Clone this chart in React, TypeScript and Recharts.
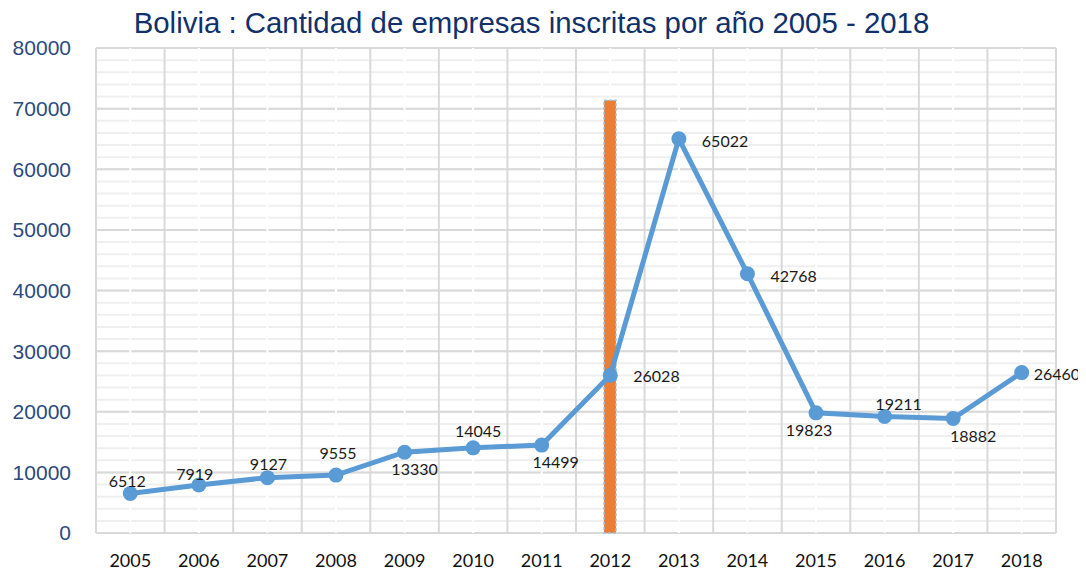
import React from 'react';
import {
  ComposedChart,
  Line,
  Bar,
  XAxis,
  YAxis,
  CartesianGrid,
  LabelList
} from 'recharts';

// años y cantidad de empresas inscritas
const YEARS = ['2005', '2006', '2007', '2008', '2009', '2010', '2011', '2012', '2013', '2014', '2015', '2016', '2017', '2018'];
const EMPRESAS = [6512, 7919, 9127, 9555, 13330, 14045, 14499, 26028, 65022, 42768, 19823, 19211, 18882, 26460];
// barra naranja que marca el año 2012
const MARCA_YEAR = '2012';
const MARCA_VALUE = 71400;

const Y_MAX = 80000;
const Y_TICKS = [0, 10000, 20000, 30000, 40000, 50000, 60000, 70000, 80000];
const Y_MINOR_STEP = 2000;

// label placement per point: [anchor, dx, dy]
const LABEL_PLACE: [string, number, number][] = [
  ['middle', -3, -7],
  ['middle', -4, -5],
  ['middle', 1, -8],
  ['middle', 2, -16],
  ['middle', 10, 23],
  ['middle', 5, -11],
  ['middle', 14, 23],
  ['start', 23, 7],
  ['start', 23, 8],
  ['start', 23, 8],
  ['middle', -7, 23],
  ['middle', 14, -7],
  ['middle', 20, 23],
  ['start', 12, 7]
];

const chartData = YEARS.map((year, i) => ({
  year,
  empresas: EMPRESAS[i],
  marca: year === MARCA_YEAR ? MARCA_VALUE : null
}));

// grid helpers: Excel-like band boundaries, band centers and minor lines
const bandLines = ({ offset }: any, center: boolean) => {
  const n = YEARS.length;
  const step = offset.width / n;
  const out: number[] = [];
  for (let i = 0; i <= n; i++) {
    if (center && i === n) break;
    out.push(offset.left + step * (i + (center ? 0.5 : 0)));
  }
  return out;
};

const minorLines = ({ offset }: any) => {
  const out: number[] = [];
  for (let v = 0; v <= Y_MAX; v += Y_MINOR_STEP) {
    out.push(offset.top + offset.height * (1 - v / Y_MAX));
  }
  return out;
};

const renderLabel = (props: any) => {
  const { x, y, value } = props;
  const idx = props.index ?? EMPRESAS.indexOf(value);
  const [anchor, dx, dy] = LABEL_PLACE[idx] || ['middle', 0, -8];
  return (
    <text
      x={x + dx}
      y={y + dy}
      textAnchor={anchor as any}
      fill="#1a1a1a"
      style={{ fontFamily: 'Lato, sans-serif', fontSize: 16 }}
    >
      {value}
    </text>
  );
};

const renderXTick = (props: any) => {
  const { x, y, payload } = props;
  return (
    <text
      x={x}
      y={y + 34}
      textAnchor="middle"
      fill="#111"
      style={{ fontFamily: 'Lato, sans-serif', fontSize: 18 }}
    >
      {payload.value}
    </text>
  );
};

export default function App() {
  return (
    <div style={{ position: 'relative', width: 1078, height: 563 }}>
      <div
        style={{
          position: 'absolute',
          top: 0,
          left: 0,
          width: 1047,
          textAlign: 'center',
          fontFamily: '"Liberation Sans", Arial, sans-serif',
          fontSize: 29.4,
          lineHeight: '29px',
          color: '#12306b'
        }}
      >
        Bolivia : Cantidad de empresas inscritas por año 2005 - 2018
      </div>
      <ComposedChart
        width={1078}
        height={563}
        data={chartData}
        margin={{ top: 40, right: 30, bottom: 0, left: 0 }}
      >
        <XAxis
          dataKey="year"
          height={38}
          axisLine={false}
          tickLine={false}
          tickSize={0}
          tickMargin={0}
          interval={0}
          tick={renderXTick}
        />
        <YAxis
          width={88}
          domain={[0, Y_MAX]}
          ticks={Y_TICKS}
          interval={0}
          axisLine={false}
          tickLine={false}
          tickSize={0}
          tickMargin={25}
          tick={{ fill: '#2b4a7e', fontSize: 21, fontFamily: '"Liberation Sans", Arial, sans-serif' }}
        />
        <CartesianGrid
          vertical={false}
          horizontalCoordinatesGenerator={minorLines}
          stroke="#efefef"
          strokeWidth={2}
        />
        <CartesianGrid vertical={false} stroke="#d9d9d9" strokeWidth={2} />
        <CartesianGrid
          horizontal={false}
          verticalCoordinatesGenerator={(p: any) => bandLines(p, true)}
          stroke="#ffffff"
          strokeWidth={2}
        />
        <CartesianGrid
          horizontal={false}
          verticalCoordinatesGenerator={(p: any) => bandLines(p, false)}
          stroke="#d9d9d9"
          strokeWidth={2}
        />
        <Bar
          dataKey="marca"
          fill="#ED7D31"
          barSize={12}
          stroke="#9DC3E6"
          strokeWidth={1.5}
          strokeDasharray="3 2"
          isAnimationActive={false}
        />
        <Line
          dataKey="empresas"
          stroke="#5B9BD5"
          strokeWidth={5}
          dot={{ r: 7.5, fill: '#5B9BD5', stroke: 'none' }}
          activeDot={false}
          isAnimationActive={false}
        >
          <LabelList dataKey="empresas" content={renderLabel} />
        </Line>
      </ComposedChart>
    </div>
  );
}
